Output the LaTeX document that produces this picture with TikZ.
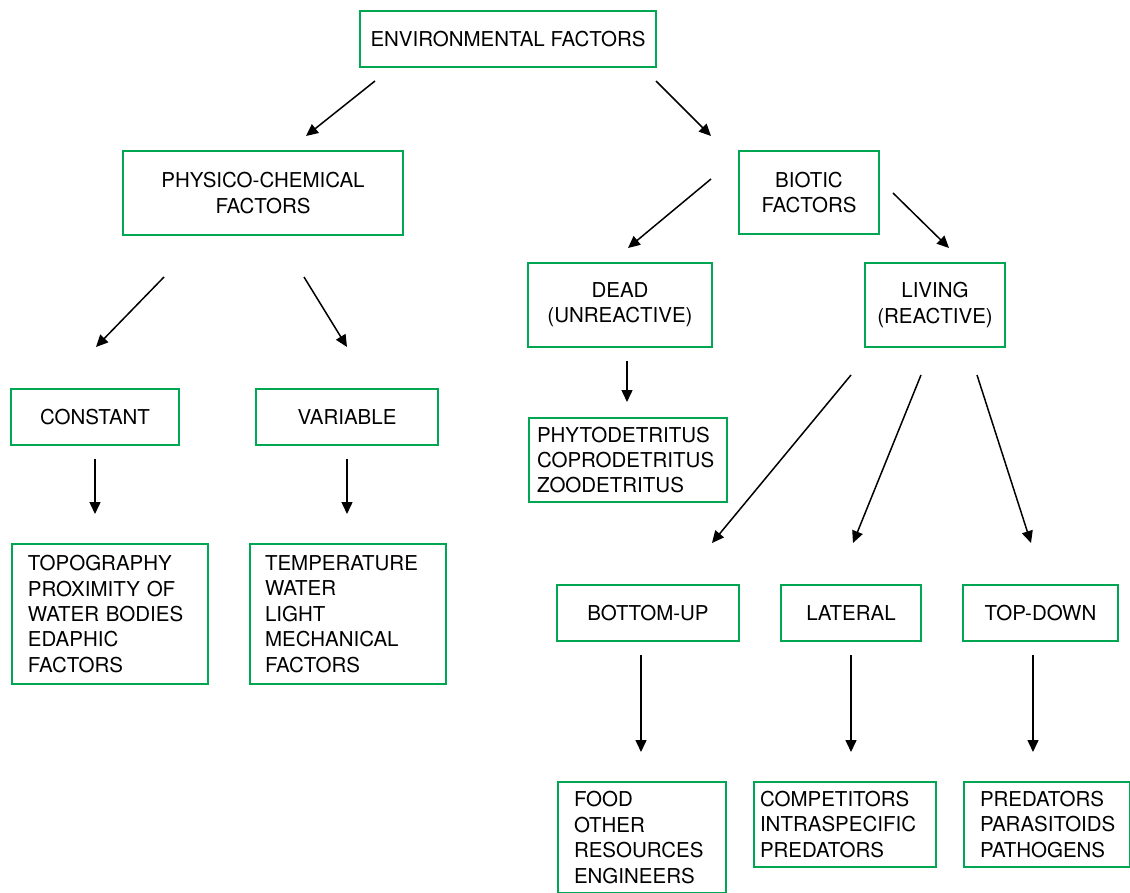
\documentclass[tikz,border=0pt]{standalone}
\usepackage{fontspec}
\setmainfont{TeX Gyre Heros}
\usetikzlibrary{arrows.meta}
\definecolor{boxgreen}{RGB}{0,166,81}
\begin{document}
\begin{tikzpicture}[x=1pt,y=-1pt,
  cbox/.style={draw=boxgreen, line width=2pt, align=center, inner sep=0pt,
    font=\fontsize{20.5}{25.4}\selectfont},
  lbox/.style={draw=boxgreen, line width=2pt, align=left, inner sep=0pt,
    anchor=north west, font=\fontsize{20.5}{25.4}\selectfont},
  arr/.style={line width=1.5pt, -{Triangle[length=12pt,width=11pt]}}]
\useasboundingbox (0,0) rectangle (1130,893);
% centred boxes
\node[cbox, minimum width=296pt, minimum height=56pt] (env) at (508,39) {ENVIRONMENTAL FACTORS};
\node[cbox, minimum width=280pt, minimum height=84pt] (phys) at (263,193) {PHYSICO-CHEMICAL\\FACTORS};
\node[cbox, minimum width=140pt, minimum height=83pt] (biotic) at (809,192.5) {BIOTIC\\FACTORS};
\node[cbox, minimum width=184pt, minimum height=84pt] (dead) at (620,305) {DEAD\\(UNREACTIVE)};
\node[cbox, minimum width=140pt, minimum height=84pt] (living) at (935,305) {LIVING\\(REACTIVE)};
\node[cbox, minimum width=168pt, minimum height=56pt] (const) at (95,417) {CONSTANT};
\node[cbox, minimum width=182pt, minimum height=56pt] (var) at (347,417) {VARIABLE};
\node[cbox, minimum width=182pt, minimum height=56pt] (bu) at (648,613) {BOTTOM-UP};
\node[cbox, minimum width=140pt, minimum height=56pt] (lat) at (851,613) {LATERAL};
\node[cbox, minimum width=155pt, minimum height=56pt] (td) at (1040.5,613) {TOP-DOWN};
% left-aligned list boxes
\node[lbox, text width=198pt, minimum height=84pt] (phyto) at (528,417)
  {\leftskip=8pt PHYTODETRITUS\\COPRODETRITUS\\ZOODETRITUS\par};
\node[lbox, text width=196pt, minimum height=140pt] (topo) at (11,543)
  {\leftskip=16pt TOPOGRAPHY\\PROXIMITY OF\\WATER BODIES\\EDAPHIC\\FACTORS\par};
\node[lbox, text width=196pt, minimum height=140pt] (temp) at (249,543)
  {\leftskip=15pt TEMPERATURE\\WATER\\LIGHT\\MECHANICAL\\FACTORS\par};
\node[lbox, text width=168pt, minimum height=111pt] (food) at (557,781)
  {\leftskip=16pt FOOD\\OTHER\\RESOURCES\\ENGINEERS\par};
\node[lbox, text width=182pt, minimum height=85pt] (comp) at (753,781)
  {\leftskip=6pt COMPETITORS\\INTRASPECIFIC\\PREDATORS\par};
\node[lbox, text width=166pt, minimum height=85pt] (pred) at (963,781)
  {\leftskip=16pt PREDATORS\\PARASITOIDS\\PATHOGENS\par};
% arrow end points
\coordinate (a1s) at (375,81);   \coordinate (a1e) at (306,136);
\coordinate (a2s) at (656,81);   \coordinate (a2e) at (711,136);
\coordinate (a3s) at (164,277);  \coordinate (a3e) at (96,347);
\coordinate (a4s) at (304,277);  \coordinate (a4e) at (347,347);
\coordinate (a5s) at (95,459);   \coordinate (a5e) at (95,514);
\coordinate (a6s) at (347,459);  \coordinate (a6e) at (347,514);
\coordinate (a7s) at (711,179);  \coordinate (a7e) at (628,248);
\coordinate (a8s) at (893,193);  \coordinate (a8e) at (949,248);
\coordinate (a9s) at (627,361);  \coordinate (a9e) at (627,402);
\coordinate (b1s) at (851,375);  \coordinate (b1e) at (712,543);
\coordinate (b2s) at (921,375);  \coordinate (b2e) at (853,543);
\coordinate (b3s) at (977,375);  \coordinate (b3e) at (1031,543);
\coordinate (c1s) at (641,655);  \coordinate (c1e) at (641,752);
\coordinate (c2s) at (851,655);  \coordinate (c2e) at (851,752);
\coordinate (c3s) at (1033,655); \coordinate (c3e) at (1033,752);
\foreach \a in {a1,a2,a3,a4,a5,a6,a7,a8,a9,b1,b2,b3,c1,c2,c3}
  \draw[arr] (\a s) -- (\a e);
\end{tikzpicture}
\end{document}
